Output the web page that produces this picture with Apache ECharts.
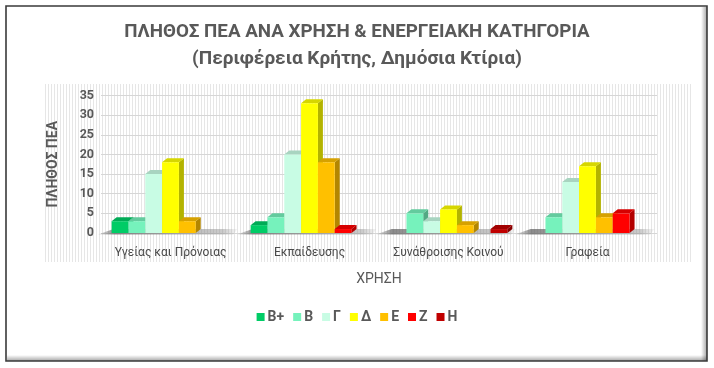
<!DOCTYPE html>
<html><head><meta charset="utf-8">
<script src="https://cdn.jsdelivr.net/npm/echarts@6/dist/echarts.min.js"></script>
<style>html,body{margin:0;padding:0;background:#fff}#c{width:714px;height:368px}</style>
</head><body><div id="c"></div>
<script>
const categories = ['Υγείας και Πρόνοιας', 'Εκπαίδευσης', 'Συνάθροισης Κοινού', 'Γραφεία'];
const levels = ['B+', 'B', 'Γ', 'Δ', 'Ε', 'Ζ', 'Η'];
const valuesBplus = [3, 2, 0, 0];
const valuesB     = [3, 4, 5, 4];
const valuesG     = [15, 20, 3, 13];
const valuesD     = [18, 33, 6, 17];
const valuesE     = [3, 18, 2, 4];
const valuesZ     = [0, 1, 0, 5];
const valuesH     = [0, 0, 1, 0];
const yTicks = [0, 5, 10, 15, 20, 25, 30, 35];

const seriesValues = [valuesBplus, valuesB, valuesG, valuesD, valuesE, valuesZ, valuesH];
const colors = ['#00CC66', '#76F2BC', '#C8FCE4', '#FFFF00', '#FFC000', '#FF0000', '#C00000'];

function shade(hex, f) {
  const n = parseInt(hex.slice(1), 16);
  const r = Math.round(((n >> 16) & 255) * f), g = Math.round(((n >> 8) & 255) * f), b = Math.round((n & 255) * f);
  return 'rgb(' + r + ',' + g + ',' + b + ')';
}

const DX = 5, DY = -4, BAR_FRAC = 0.121;

function makeSeries(s) {
  const front = colors[s], topc = shade(colors[s], 0.84), side = shade(colors[s], 0.7);
  return {
    type: 'custom',
    name: levels[s],
    itemStyle: { color: front },
    z: 3,
    data: categories.map((c, i) => [i, seriesValues[s][i]]),
    encode: { x: 0, y: 1 },
    renderItem: function (params, api) {
      const v = api.value(1);
      if (!v) return null;
      const band = api.size([1, 0])[0];
      const barW = band * BAR_FRAC;
      const base = api.coord([api.value(0), 0]);
      const top = api.coord([api.value(0), v]);
      const x0 = base[0] - 3.5 * barW + s * barW;
      const x1 = x0 + barW;
      const yb = base[1], yt = top[1];
      return {
        type: 'group',
        children: [
          { type: 'polygon', shape: { points: [[x1, yb], [x1 + DX, yb + DY], [x1 + DX, yt + DY], [x1, yt]] }, style: { fill: side } },
          { type: 'polygon', shape: { points: [[x0, yt], [x0 + DX, yt + DY], [x1 + DX, yt + DY], [x1, yt]] }, style: { fill: topc } },
          { type: 'rect', shape: { x: x0, y: yt, width: barW, height: yb - yt }, style: { fill: front } }
        ]
      };
    }
  };
}

const floorShadow = {
  type: 'custom',
  name: 'floor',
  silent: true,
  z: 2,
  data: categories.map((c, i) => [i, 0]),
  encode: { x: 0, y: 1 },
  renderItem: function (params, api) {
    const band = api.size([1, 0])[0];
    const barW = band * BAR_FRAC;
    const base = api.coord([api.value(0), 0]);
    const gs = base[0] - 3.5 * barW, ge = base[0] + 3.5 * barW;
    const yb = base[1];
    return {
      type: 'polygon',
      shape: { points: [[gs - 14, yb + 1.5], [gs + 2, yb - 4], [ge + 8, yb - 4], [ge + 4, yb + 1.5]] },
      style: {
        fill: new echarts.graphic.LinearGradient(0, 0, 1, 0, [
          { offset: 0, color: 'rgba(90,90,90,0.05)' },
          { offset: 0.12, color: 'rgba(90,90,90,0.7)' },
          { offset: 0.9, color: 'rgba(140,140,140,0.45)' },
          { offset: 1, color: 'rgba(160,160,160,0.1)' }
        ])
      }
    };
  }
};

const pat = document.createElement('canvas');
pat.width = 3; pat.height = 1;
const pctx = pat.getContext('2d');
pctx.fillStyle = '#ffffff'; pctx.fillRect(0, 0, 3, 1);
pctx.fillStyle = '#e6e6e6'; pctx.fillRect(0, 0, 1, 1);

const txt = '#595959';
const lbl = '#4a4a4a';
const font = "'Roboto', sans-serif";

const chart = echarts.init(document.getElementById('c'), null, { renderer: 'canvas' });
chart.setOption({
  animation: false,
  backgroundColor: '#ffffff',
  title: [
    { text: 'ΠΛΗΘΟΣ ΠΕΑ ΑΝΑ ΧΡΗΣΗ & ΕΝΕΡΓΕΙΑΚΗ ΚΑΤΗΓΟΡΙΑ', left: 'center', top: 18,
      textStyle: { color: txt, fontSize: 18.8, fontWeight: 'bold', fontFamily: font } },
    { text: '(Περιφέρεια Κρήτης, Δημόσια Κτίρια)', left: 'center', top: 45,
      textStyle: { color: txt, fontSize: 19, fontWeight: 'bold', fontFamily: font } }
  ],
  legend: {
    data: levels,
    left: 'center', top: 305,
    icon: 'rect', itemWidth: 8, itemHeight: 8, itemGap: 9,
    textStyle: { color: txt, fontSize: 14, fontWeight: 'bold', fontFamily: font, padding: [0, 0, 0, -2] }
  },
  grid: { left: 101, right: 57, top: 95.5, bottom: 135 },
  graphic: [
    { type: 'rect', z: -10, shape: { x: 44, y: 84, width: 648, height: 178 }, style: { fill: { image: pat, repeat: 'repeat' } } },
    { type: 'rect', z: 100, shape: { x: 701, y: 7, width: 6, height: 354 },
      style: { fill: new echarts.graphic.LinearGradient(0, 0, 1, 0, [{ offset: 0, color: 'rgba(0,0,0,0)' }, { offset: 1, color: 'rgba(0,0,0,0.35)' }]) } },
    { type: 'rect', z: 100, shape: { x: 7, y: 355, width: 700, height: 6 },
      style: { fill: new echarts.graphic.LinearGradient(0, 0, 0, 1, [{ offset: 0, color: 'rgba(0,0,0,0)' }, { offset: 1, color: 'rgba(0,0,0,0.35)' }]) } },
    { type: 'rect', z: 101, shape: { x: 6, y: 6, width: 701, height: 355 }, style: { fill: null, stroke: '#3a3a3a', lineWidth: 1.6 } }
  ],
  xAxis: {
    type: 'category',
    data: categories,
    name: 'ΧΡΗΣΗ',
    nameLocation: 'middle',
    nameGap: 39,
    nameTextStyle: { color: txt, fontSize: 14, fontFamily: font },
    axisLine: { show: false },
    axisTick: { show: false },
    axisLabel: { color: lbl, fontSize: 12, fontFamily: font, margin: 14, interval: 0 }
  },
  yAxis: {
    type: 'value',
    min: yTicks[0], max: yTicks[yTicks.length - 1], interval: yTicks[1] - yTicks[0],
    name: 'ΠΛΗΘΟΣ ΠΕΑ',
    nameLocation: 'middle',
    nameGap: 41,
    nameTextStyle: { color: txt, fontSize: 14, fontWeight: 'bold', fontFamily: font },
    axisLine: { show: false },
    axisTick: { show: false },
    axisLabel: { color: txt, fontSize: 12.5, fontWeight: 'bold', fontFamily: font, margin: 7 },
    splitLine: { lineStyle: { color: '#d6d6d6', width: 1 } }
  },
  series: [floorShadow].concat(levels.map((l, s) => makeSeries(s)))
});
</script></body></html>
